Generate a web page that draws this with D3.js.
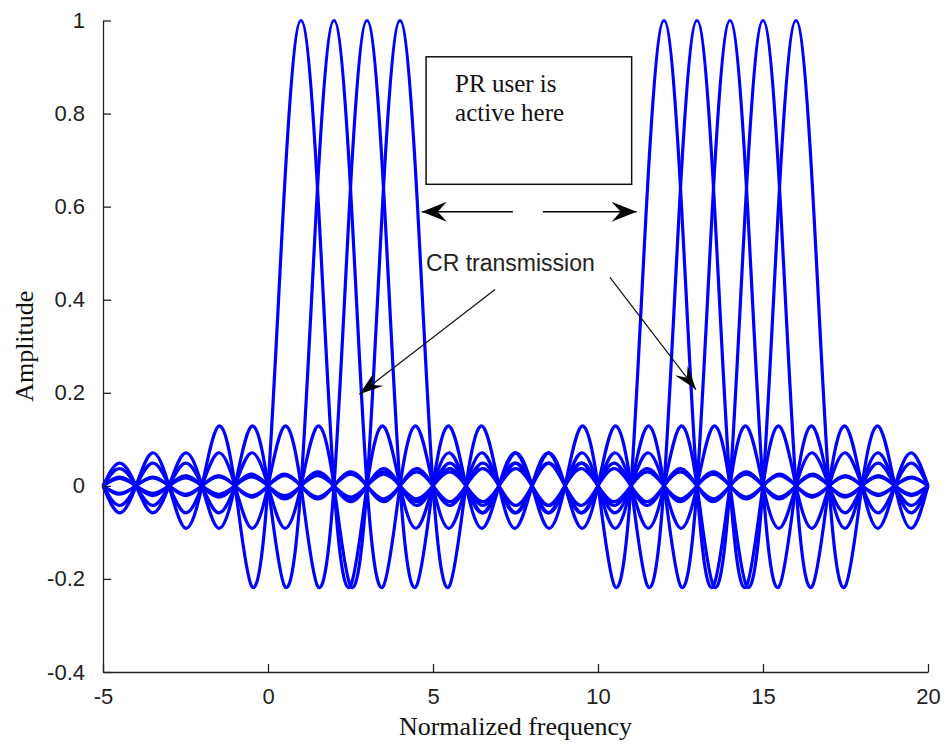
<!DOCTYPE html>
<html>
<head>
<meta charset="utf-8">
<script src="https://cdn.jsdelivr.net/npm/d3@7"></script>
<style>
  body { margin: 0; background: #fff; }
  svg { display: block; }
  .tick text { font-family: "Liberation Sans", Arial, sans-serif; font-size: 22px; fill: #222; }
  .lbl { font-family: "Liberation Serif", "Times New Roman", serif; font-size: 26px; fill: #111; }
</style>
</head>
<body>
<svg id="chart" width="949" height="744"></svg>
<script>
'use strict'

// subcarrier centres (normalized frequency)
let leftCarriers = [1, 2, 3, 4]
let rightCarriers = [12, 13, 14, 15, 16]

// one carrier's shape, offset 0, 0.5, 1, 1.5 ... from its centre
let profileStep = 0.5
let profile = [1, 0.64, 0, -0.215, 0, 0.128, 0, -0.091, 0, 0.071, 0, -0.058, 0, 0.049,
	0, -0.042, 0, 0.037, 0, -0.034, 0, 0.030, 0, -0.028, 0, 0.025, 0, -0.024, 0, 0.022,
	0, -0.021, 0, 0.019, 0, -0.018, 0, 0.017, 0, -0.016, 0, 0.016, 0]

let xTicks = [-5, 0, 5, 10, 15, 20]
let yTicks = [-0.4, -0.2, 0, 0.2, 0.4, 0.6, 0.8, 1]

// annotations, in data units
let boxCorners = [[4.79, 0.922], [11.02, 0.648]]
let boxLines = [{x: 5.67, y: 0.846, t: 'PR user is'}, {x: 5.67, y: 0.784, t: 'active here'}]
let bandArrows = [
	{from: [7.42, 0.589], to: [4.66, 0.589]},
	{from: [8.33, 0.589], to: [11.17, 0.589]}
]
let crLabel = {x: 4.79, y: 0.461, t: 'CR transmission'}
let crArrows = [
	{from: [6.88, 0.422], to: [2.77, 0.197]},
	{from: [10.36, 0.448], to: [12.97, 0.207]}
]

const svg = d3.select('#chart')
const margin = {top: 20.5, right: 21, bottom: 72, left: 103}
const W = 949, H = 744

let x = d3.scaleLinear().domain([-5, 20]).range([margin.left, W - margin.right])
let y = d3.scaleLinear().domain([-0.4, 1]).range([H - margin.bottom, margin.top])

function carrierPoints(k){
	let pts = []
	for(let i = -(profile.length - 1); i < profile.length; i++){
		let f = k + i * profileStep
		if(f < -5 || f > 20) continue
		pts.push([f, profile[Math.abs(i)]])
	}
	return pts
}

let line = d3.line()
	.x(d => x(d[0]))
	.y(d => y(d[1]))
	.curve(d3.curveNatural)

let carriers = leftCarriers.concat(rightCarriers)

svg.append('g')
	.selectAll('path')
	.data(carriers)
	.join('path')
	.attr('d', d => line(carrierPoints(d)))
	.attr('fill', 'none')
	.attr('stroke', '#0000ff')
	.attr('stroke-width', 3.2)
	.attr('stroke-linejoin', 'round')

// axes, ticks inside like matlab
svg.append('g')
	.attr('transform', `translate(0,${y(-0.4)})`)
	.call(d3.axisBottom(x).tickValues(xTicks).tickSizeInner(-8).tickSizeOuter(0).tickPadding(16).tickFormat(d => String(d)))
	.call(g => g.selectAll('line, path').attr('stroke', '#222').attr('stroke-width', 1.3))

svg.append('g')
	.attr('transform', `translate(${x(-5)},0)`)
	.call(d3.axisLeft(y).tickValues(yTicks).tickSizeInner(-8).tickSizeOuter(0).tickPadding(18).tickFormat(d => String(+d.toFixed(1))))
	.call(g => g.selectAll('line, path').attr('stroke', '#222').attr('stroke-width', 1.3))

svg.selectAll('.tick text').attr('fill', '#222')

svg.append('text')
	.attr('class', 'lbl')
	.attr('x', x(7.5))
	.attr('y', 735)
	.attr('text-anchor', 'middle')
	.text('Normalized frequency')

svg.append('text')
	.attr('class', 'lbl')
	.attr('transform', `translate(33,${y(0.3)}) rotate(-90)`)
	.attr('text-anchor', 'middle')
	.text('Amplitude')

// arrow heads
let defs = svg.append('defs')
defs.append('marker')
	.attr('id', 'headBig')
	.attr('viewBox', '-26 -11 27 22')
	.attr('refX', 0).attr('refY', 0)
	.attr('markerWidth', 27).attr('markerHeight', 22)
	.attr('markerUnits', 'userSpaceOnUse')
	.attr('orient', 'auto')
	.append('path')
	.attr('d', 'M0,0 L-25,-10 L-16,0 L-25,10 Z')
	.attr('fill', '#000')
defs.append('marker')
	.attr('id', 'headSmall')
	.attr('viewBox', '-26 -9 27 18')
	.attr('refX', 0).attr('refY', 0)
	.attr('markerWidth', 27).attr('markerHeight', 18)
	.attr('markerUnits', 'userSpaceOnUse')
	.attr('orient', 'auto')
	.append('path')
	.attr('d', 'M0,0 L-24,-8 L-15,0 L-24,8 Z')
	.attr('fill', '#000')

// PR box
svg.append('rect')
	.attr('x', x(boxCorners[0][0]))
	.attr('y', y(boxCorners[0][1]))
	.attr('width', x(boxCorners[1][0]) - x(boxCorners[0][0]))
	.attr('height', y(boxCorners[1][1]) - y(boxCorners[0][1]))
	.attr('fill', 'none')
	.attr('stroke', '#111')
	.attr('stroke-width', 1.5)

svg.selectAll('text.box')
	.data(boxLines)
	.join('text')
	.attr('class', 'lbl box')
	.attr('x', d => x(d.x))
	.attr('y', d => y(d.y))
	.style('font-size', '25px')
	.text(d => d.t)

svg.selectAll('line.band')
	.data(bandArrows)
	.join('line')
	.attr('class', 'band')
	.attr('x1', d => x(d.from[0])).attr('y1', d => y(d.from[1]))
	.attr('x2', d => x(d.to[0])).attr('y2', d => y(d.to[1]))
	.attr('stroke', '#000')
	.attr('stroke-width', 1.5)
	.attr('marker-end', 'url(#headBig)')

svg.append('text')
	.attr('x', x(crLabel.x))
	.attr('y', y(crLabel.y))
	.style('font-family', '"Liberation Sans", Arial, sans-serif')
	.style('font-size', '23px')
	.attr('fill', '#222')
	.text(crLabel.t)

svg.selectAll('line.cr')
	.data(crArrows)
	.join('line')
	.attr('class', 'cr')
	.attr('x1', d => x(d.from[0])).attr('y1', d => y(d.from[1]))
	.attr('x2', d => x(d.to[0])).attr('y2', d => y(d.to[1]))
	.attr('stroke', '#111')
	.attr('stroke-width', 1.2)
	.attr('marker-end', 'url(#headSmall)')
</script>
</body>
</html>
